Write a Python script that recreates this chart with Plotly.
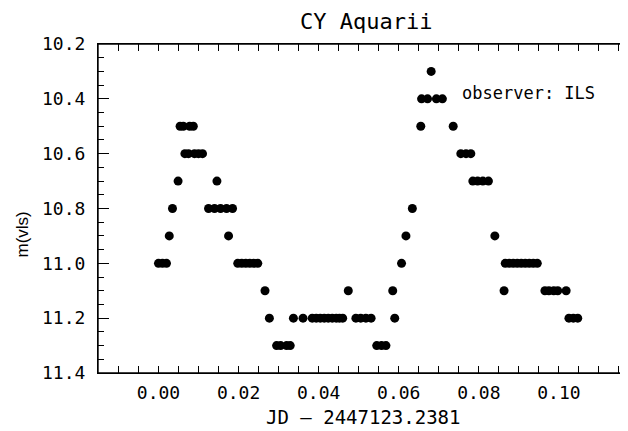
import plotly.graph_objects as go

# Light-curve data: JD - 2447123.2381 and visual magnitude
jd_offset = [
    0.0000, 0.0010, 0.0020,
    0.0027,
    0.0035,
    0.0049,
    0.0054, 0.0062,
    0.0066, 0.0075,
    0.0078, 0.0087,
    0.0090, 0.0100, 0.0110,
    0.0125, 0.0140,
    0.0146,
    0.0155, 0.0170,
    0.0175,
    0.0185,
    0.0198, 0.0208, 0.0218, 0.0228, 0.0238, 0.0248,
    0.0266,
    0.0277,
    0.0295, 0.0305, 0.0320, 0.0329,
    0.0337, 0.0361,
    0.0384, 0.0394, 0.0404, 0.0414, 0.0424, 0.0434, 0.0444, 0.0452, 0.0460,
    0.0474,
    0.0493, 0.0505, 0.0518, 0.0531,
    0.0545, 0.0557, 0.0568,
    0.0585,
    0.0590,
    0.0607,
    0.0618,
    0.0634,
    0.0655,
    0.0657, 0.0672,
    0.0681,
    0.0694, 0.0709,
    0.0736,
    0.0755, 0.0768, 0.0780,
    0.0785, 0.0797, 0.0810, 0.0824,
    0.0840,
    0.0863,
    0.0866, 0.0876, 0.0886, 0.0896, 0.0906, 0.0916, 0.0926, 0.0936, 0.0946,
    0.0965, 0.0975, 0.0987, 0.0997, 0.1018,
    0.1025, 0.1036, 0.1047,
]
magnitude = [
    11.0, 11.0, 11.0,
    10.9,
    10.8,
    10.7,
    10.5, 10.5,
    10.6, 10.6,
    10.5, 10.5,
    10.6, 10.6, 10.6,
    10.8, 10.8,
    10.7,
    10.8, 10.8,
    10.9,
    10.8,
    11.0, 11.0, 11.0, 11.0, 11.0, 11.0,
    11.1,
    11.2,
    11.3, 11.3, 11.3, 11.3,
    11.2, 11.2,
    11.2, 11.2, 11.2, 11.2, 11.2, 11.2, 11.2, 11.2, 11.2,
    11.1,
    11.2, 11.2, 11.2, 11.2,
    11.3, 11.3, 11.3,
    11.1,
    11.2,
    11.0,
    10.9,
    10.8,
    10.5,
    10.4, 10.4,
    10.3,
    10.4, 10.4,
    10.5,
    10.6, 10.6, 10.6,
    10.7, 10.7, 10.7, 10.7,
    10.9,
    11.1,
    11.0, 11.0, 11.0, 11.0, 11.0, 11.0, 11.0, 11.0, 11.0,
    11.1, 11.1, 11.1, 11.1, 11.1,
    11.2, 11.2, 11.2,
]

x_tick_values = [0.00, 0.02, 0.04, 0.06, 0.08, 0.10]
x_tick_labels = ["0.00", "0.02", "0.04", "0.06", "0.08", "0.10"]
y_tick_values = [10.2, 10.4, 10.6, 10.8, 11.0, 11.2, 11.4]
y_tick_labels = ["10.2", "10.4", "10.6", "10.8", "11.0", "11.2", "11.4"]

title_text = "CY Aquarii"
x_title = "JD \u2013 2447123.2381"
y_title = "m(vls)"
observer_text = "observer: ILS"

FONT = "DejaVu Sans Mono"

fig = go.Figure()
fig.add_trace(go.Scatter(
    x=jd_offset, y=magnitude, mode="markers",
    marker=dict(symbol="circle", size=9, color="black", line=dict(width=0)),
    showlegend=False,
))
# invisible trace on secondary y axis (right-side tick stubs)
fig.add_trace(go.Scatter(x=[jd_offset[0]], y=[magnitude[0]], yaxis="y2",
                         mode="markers", marker=dict(opacity=0), showlegend=False,
                         hoverinfo="skip"))

# Plot frame (left, top, bottom); the right side lies beyond the visible page.
frame = dict(type="line", xref="paper", yref="paper",
             line=dict(color="black", width=1.4), layer="above")
fig.add_shape(**frame, x0=0, x1=0, y0=0, y1=1)
fig.add_shape(**frame, x0=0, x1=1.05, y0=1, y1=1)
fig.add_shape(**frame, x0=0, x1=1.05, y0=0, y1=0)

# The page body has an 8px default margin: figure is sized/offset to compensate.
fig.update_layout(
    width=620, height=423,
    margin=dict(l=90, r=0, t=36, b=58),
    paper_bgcolor="white", plot_bgcolor="white",
    font=dict(family=FONT, size=18, color="black"),
    xaxis=dict(
        range=[-0.0151, 0.11725], showgrid=False, zeroline=False,
        showline=True, linecolor="black", linewidth=1, mirror="allticks",
        ticks="inside", ticklen=7, tickwidth=1, tickcolor="black",
        tickvals=x_tick_values, ticktext=x_tick_labels,
        tickfont=dict(family=FONT, size=18),
        ticklabelstandoff=3,
        minor=dict(dtick=0.005, tick0=0, ticks="inside", ticklen=3.5,
                   tickcolor="black", tickwidth=1, showgrid=False),
    ),
    yaxis=dict(
        range=[11.4, 10.2], showgrid=False, zeroline=False,
        showline=True, linecolor="black", linewidth=1, mirror=False,
        ticks="inside", ticklen=11, tickwidth=1, tickcolor="black",
        tickvals=y_tick_values, ticktext=y_tick_labels,
        tickfont=dict(family=FONT, size=18),
        ticklabelstandoff=8,
        minor=dict(dtick=0.05, tick0=10.2, ticks="inside", ticklen=5.5,
                   tickcolor="black", tickwidth=1, showgrid=False),
    ),
    yaxis2=dict(
        overlaying="y", side="right", range=[11.4, 10.2], showgrid=False,
        zeroline=False, showline=False, ticks="inside", ticklen=3,
        tickcolor="black", tickvals=y_tick_values, showticklabels=False,
    ),
    annotations=[
        dict(text=title_text, xref="paper", yref="paper", x=0.506, y=1.0,
             xanchor="center", yanchor="bottom", yshift=8, showarrow=False,
             font=dict(family=FONT, size=22)),
        dict(text=x_title, xref="paper", yref="paper", x=0.5, y=0.0,
             xanchor="center", yanchor="top", yshift=-31, showarrow=False,
             font=dict(family=FONT, size=19)),
        dict(text=y_title, xref="paper", yref="paper", x=0.0, y=0.5,
             xanchor="center", yanchor="middle", xshift=-76, yshift=-26,
             textangle=-90, showarrow=False,
             font=dict(family="Liberation Sans", size=17)),
        dict(text=observer_text, xref="x", yref="y", x=0.0753, y=10.38,
             xanchor="left", yanchor="middle", showarrow=False,
             font=dict(family=FONT, size=17)),
    ],
)

fig.write_html("out.html")
